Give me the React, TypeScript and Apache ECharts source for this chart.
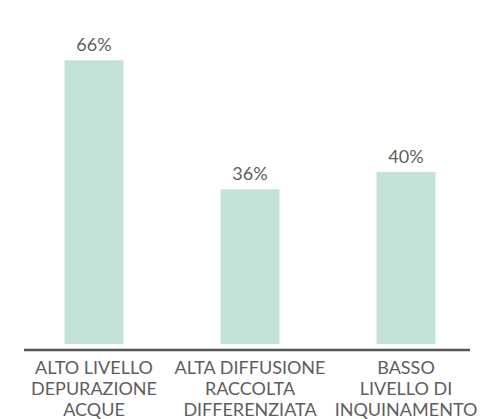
import React, { useEffect, useRef } from "react";
import * as echarts from "echarts";

const categories = [
  "ALTO LIVELLO\nDEPURAZIONE\nACQUE",
  "ALTA DIFFUSIONE\nRACCOLTA\nDIFFERENZIATA",
  "BASSO\nLIVELLO DI\nINQUINAMENTO",
];
const values = [66, 36, 40];

export default function App() {
  const ref = useRef<HTMLDivElement>(null);
  useEffect(() => {
    if (!ref.current) return;
    const chart = echarts.init(ref.current, null, { renderer: "svg" });
    chart.setOption({
      animation: false,
      backgroundColor: "#ffffff",
      grid: { left: 16, right: 0, top: 43, bottom: 69, containLabel: false },
      xAxis: {
        type: "category",
        data: categories,
        axisLine: { show: false },
        axisTick: { show: false },
        axisLabel: {
          interval: 0,
          margin: 12,
          color: "#5e5e5e",
          fontFamily: "Lato",
          fontSize: 18,
          lineHeight: 21,
          align: "center",
        },
      },
      yAxis: {
        type: "value",
        min: 0,
        max: 70,
        show: false,
        splitLine: { show: false },
      },
      series: [
        {
          type: "bar",
          data: values,
          barWidth: 59,
          itemStyle: { color: "#c3e3d7" },
          label: {
            show: true,
            position: "top",
            distance: 7,
            formatter: "{c}%",
            color: "#5e5e5e",
            fontFamily: "Lato",
            fontSize: 18,
          },
        },
      ],
      graphic: [
        {
          type: "line",
          shape: { x1: 24, y1: 350, x2: 470, y2: 350 },
          style: { stroke: "#555555", lineWidth: 2.5 },
          z: 10,
        },
      ],
    });
    return () => chart.dispose();
  }, []);
  return (
    <div
      ref={ref}
      style={{ position: "fixed", left: 0, top: 0, width: 484, height: 419 }}
    />
  );
}
